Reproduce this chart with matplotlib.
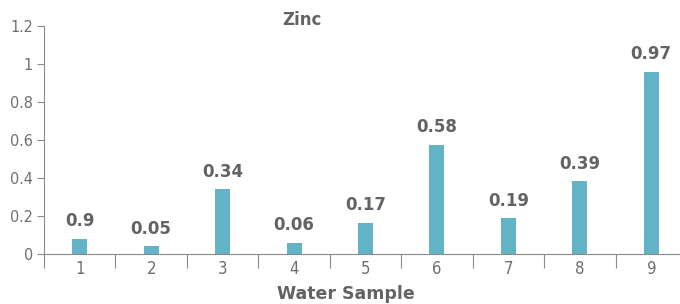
import matplotlib
matplotlib.use("Agg")
import matplotlib.pyplot as plt
from matplotlib.ticker import FixedLocator, NullFormatter

# Data
samples = ["1", "2", "3", "4", "5", "6", "7", "8", "9"]
zinc = [0.08, 0.04, 0.34, 0.06, 0.165, 0.575, 0.19, 0.385, 0.96]
bar_labels = ["0.9", "0.05", "0.34", "0.06", "0.17", "0.58", "0.19", "0.39", "0.97"]
yticks = [0, 0.2, 0.4, 0.6, 0.8, 1.0, 1.2]
ytick_labels = ["0", "0.2", "0.4", "0.6", "0.8", "1", "1.2"]

bar_color = "#62b3c5"
text_color = "#636363"
tick_color = "#6e6e6e"
axis_color = "#8a8a8a"

fig = plt.figure(figsize=(6.8, 3.04), dpi=100)
ax = fig.add_axes([44 / 680, 50 / 304, 643 / 680, 228 / 304])

x = list(range(1, len(samples) + 1))
ax.bar(x, zinc, width=0.21, color=bar_color)

for xi, v, lab in zip(x, zinc, bar_labels):
    ax.annotate(lab, (xi, v), xytext=(0, 6), textcoords="offset points",
                ha="center", va="bottom", fontsize=12, fontweight="bold",
                color=text_color, family="DejaVu Sans")

ax.set_xlim(0.5, len(samples) + 0.5)
ax.set_ylim(0, 1.2)

# category boundaries as long ticks, labels at centres
ax.xaxis.set_major_locator(FixedLocator([i + 0.5 for i in range(0, len(samples) + 1)]))
ax.xaxis.set_major_formatter(NullFormatter())
ax.xaxis.set_minor_locator(FixedLocator(x))
ax.set_xticklabels(samples, minor=True)
ax.tick_params(axis="x", which="major", length=10, width=0.8, color=axis_color)
ax.tick_params(axis="x", which="minor", length=0, pad=4, labelsize=12,
               labelcolor=tick_color)

ax.set_yticks(yticks)
ax.set_yticklabels(ytick_labels)
ax.tick_params(axis="y", length=5, width=0.8, color=axis_color, pad=3,
               labelsize=11.5, labelcolor=tick_color)

for lab in ax.get_xticklabels(minor=True) + ax.get_yticklabels():
    lab.set_family("DejaVu Sans")
    lab.set_fontstretch("condensed")

for side in ["top", "right"]:
    ax.spines[side].set_visible(False)
for side in ["left", "bottom"]:
    ax.spines[side].set_color(axis_color)
    ax.spines[side].set_linewidth(0.8)

fig.text(302 / 680, 1 - 20 / 304, "Zinc", ha="center", va="center", fontsize=12,
         fontweight="bold", color=text_color, family="DejaVu Sans")
fig.text(346 / 680, 1 / 304, "Water Sample", ha="center", va="bottom",
         fontsize=12.5, fontweight="bold", color=text_color,
         family="DejaVu Sans")

fig.savefig("out.png", dpi=100)
